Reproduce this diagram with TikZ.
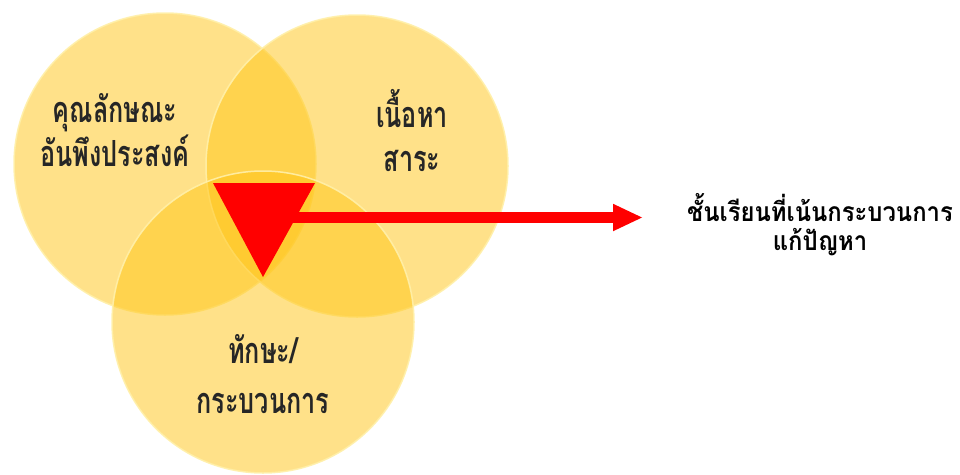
\documentclass[tikz,border=0pt]{standalone}
\usepackage{fontspec}
\newfontfamily\thaifont[Script=Thai,FakeStretch=0.7]{Loma}
\newfontfamily\thaiwide[Script=Thai,FakeStretch=0.9]{Loma}
\usetikzlibrary{arrows.meta,positioning}
\definecolor{vennfill}{RGB}{255,196,20}
\definecolor{vennrim}{RGB}{255,240,170}
\tikzset{
  ring/.style={circle,minimum size=302pt,inner sep=0pt,fill=vennfill,fill opacity=0.5,
    draw=vennrim,draw opacity=0.9,line width=1.5pt},
  venntext/.style={font=\thaifont\bfseries\fontsize{36}{44}\selectfont,align=center,text=black!85},
}
\begin{document}
\begin{tikzpicture}[x=1pt,y=-1pt]
\useasboundingbox (0,0) rectangle (960,474);
% three circles
\node[ring] (attr) at (165,164) {};
\node[ring] (content) at (357,166) {};
\node[ring] (skill) at (263,322) {};
\node[venntext] (attrlbl) at (115,130) {คุณลักษณะ\\อันพึงประสงค์};
\node[venntext] (contentlbl) at (412,131) {เนื้อหา\\สาระ};
\node[venntext,font=\thaifont\bfseries\fontsize{36}{50}\selectfont] (skilllbl) at (263,374) {ทักษะ/\\กระบวนการ};
% centre triangle and arrow
\fill[red] (213,183) -- (315,183) -- (263,277) -- cycle;
\coordinate (mid) at (263,217.5);
\coordinate (tip) at (643,217.5);
\node[font=\thaiwide\bfseries\fontsize{26.5}{29}\selectfont,align=center] (goal) at (820,225)
  {ชั้นเรียนที่เน้นกระบวนการ\\แก้ปัญหา};
\draw[red,line width=11pt,-{Triangle[length=30pt,width=25pt]}] (mid) -- (tip);
\end{tikzpicture}
\end{document}
